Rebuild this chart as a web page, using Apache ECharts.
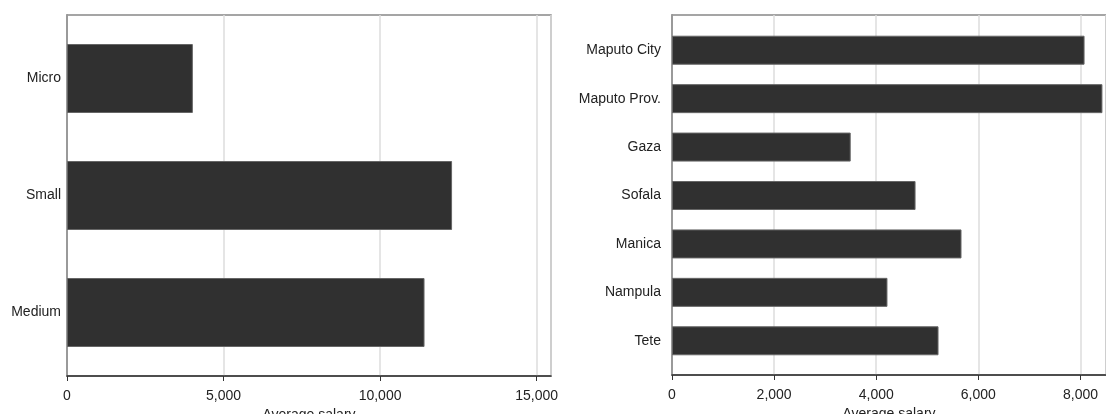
<!DOCTYPE html>
<html><head><meta charset="utf-8">
<script src="https://cdn.jsdelivr.net/npm/echarts@6/dist/echarts.min.js"></script>
<style>html,body{margin:0;padding:0;background:#fff}#c{width:1106px;height:414px}</style>
</head><body><div id="c"></div>
<script>
const sizeCategories = ['Micro', 'Small', 'Medium'];
const sizeSalary = [4020, 12300, 11420];
const provinceCategories = ['Maputo City', 'Maputo Prov.', 'Gaza', 'Sofala', 'Manica', 'Nampula', 'Tete'];
const provinceSalary = [8080, 8430, 3500, 4770, 5670, 4220, 5220];
const axisTitle = 'Average salary';

const font = 'Liberation Sans, Arial, sans-serif';
const fmt = v => Number(v).toLocaleString('en-US');
const chart = echarts.init(document.getElementById('c'), null, {renderer: 'canvas'});

// frame axes (visible x axis with ticks / gridlines)
function xFrame(gi, max, interval) {
  return {
    type: 'value', gridIndex: gi, min: 0, max: max, interval: interval,
    name: axisTitle, nameLocation: 'middle', nameGap: 31,
    nameTextStyle: {color: '#222', fontSize: 14, fontFamily: font},
    axisLine: {show: true, lineStyle: {color: '#333', width: 1.5}},
    axisTick: {show: true, length: 5, lineStyle: {color: '#333'}},
    axisLabel: {color: '#222', fontSize: 14, fontFamily: font, margin: 13, formatter: fmt, showMaxLabel: false},
    splitLine: {show: true, lineStyle: {color: '#dcdcdc', width: 1.5}}
  };
}
// hidden x axis for the bar grid, same scale
function xBars(gi, max, interval) {
  return {
    type: 'value', gridIndex: gi, min: 0, max: max, interval: interval,
    axisLine: {show: false}, axisTick: {show: false}, axisLabel: {show: false}, splitLine: {show: false}
  };
}
function yFrame(gi) {
  return {
    type: 'value', gridIndex: gi, min: 0, max: 1,
    axisLine: {show: true, lineStyle: {color: '#888', width: 1.5}},
    axisTick: {show: false}, axisLabel: {show: false}, splitLine: {show: false}
  };
}
function yBars(gi, cats, margin) {
  return {
    type: 'category', gridIndex: gi, data: cats, inverse: true,
    axisLine: {show: false}, axisTick: {show: false},
    axisLabel: {color: '#222', fontSize: 14, fontFamily: font, margin: margin},
    splitLine: {show: false}
  };
}
const gb = {containLabel: false, outerBoundsMode: 'none'};

chart.setOption({
  animation: false,
  grid: [
    Object.assign({left: 67, right: 555, top: 15, bottom: 38, show: true, borderColor: '#888', borderWidth: 1.5}, gb),
    Object.assign({left: 672, right: 0, top: 15, bottom: 39, show: true, borderColor: '#888', borderWidth: 1.5}, gb),
    Object.assign({left: 67, right: 555, top: 20, bottom: 43}, gb),
    Object.assign({left: 672, right: 0, top: 26, bottom: 49}, gb)
  ],
  xAxis: [xFrame(0, 15460, 5000), xFrame(1, 8500, 2000), xBars(2, 15460, 5000), xBars(3, 8500, 2000)],
  yAxis: [yFrame(0), yFrame(1), yBars(2, sizeCategories, 6), yBars(3, provinceCategories, 11)],
  series: [
    {type: 'bar', xAxisIndex: 2, yAxisIndex: 2, data: sizeSalary, barWidth: 69,
     itemStyle: {color: '#303030', borderColor: '#666', borderWidth: 1}},
    {type: 'bar', xAxisIndex: 3, yAxisIndex: 3, data: provinceSalary, barWidth: 29,
     itemStyle: {color: '#303030', borderColor: '#666', borderWidth: 1}}
  ]
});
</script></body></html>
